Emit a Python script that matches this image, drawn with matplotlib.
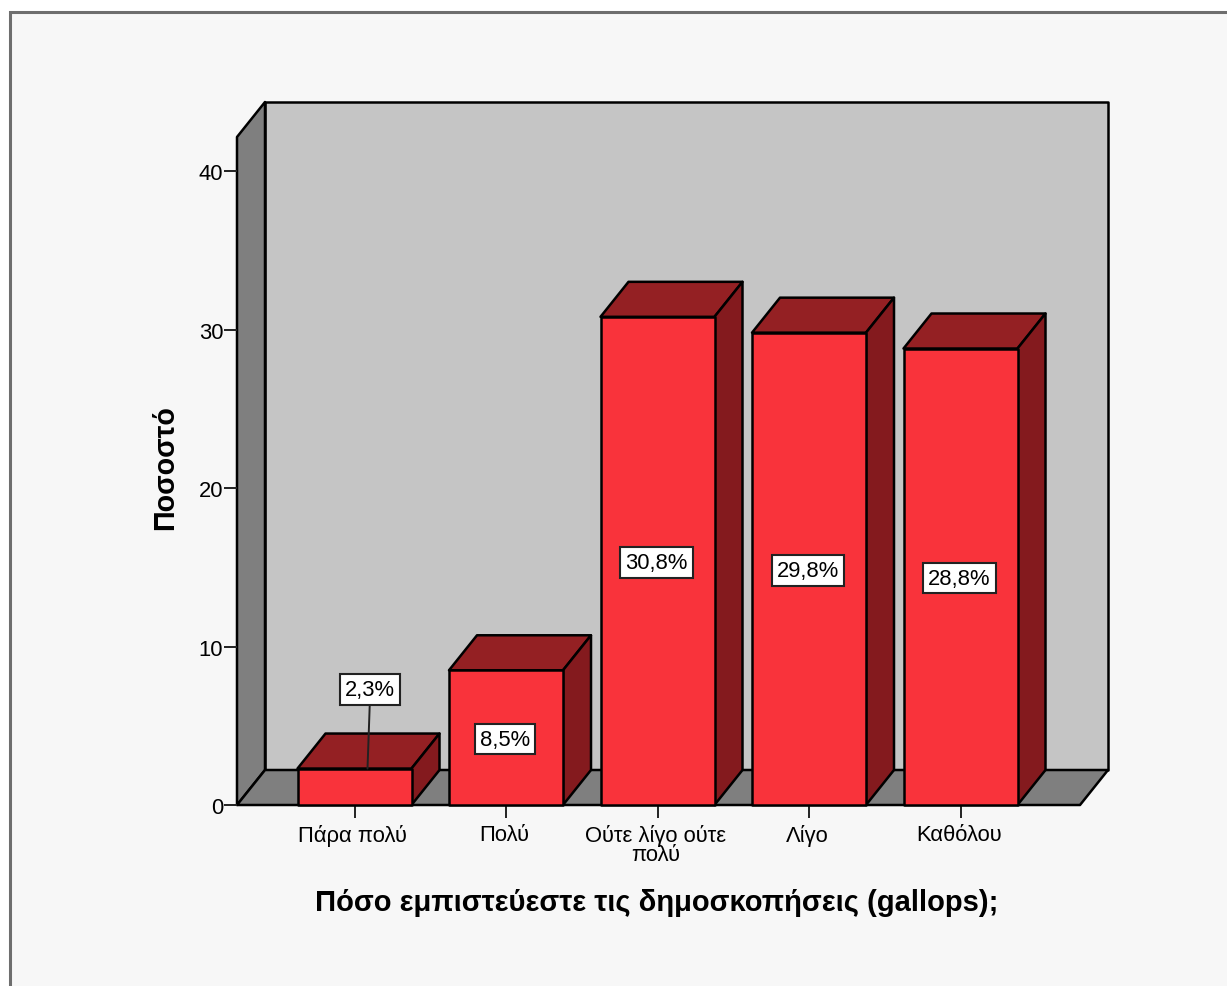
import matplotlib
matplotlib.use("Agg")
import matplotlib.pyplot as plt
from matplotlib.patches import Polygon, Rectangle
from matplotlib.transforms import ScaledTranslation

categories = ["Πάρα πολύ", "Πολύ", "Ούτε λίγο ούτε\nπολύ", "Λίγο", "Καθόλου"]
values = [2.3, 8.5, 30.8, 29.8, 28.8]
value_labels = ["2,3%", "8,5%", "30,8%", "29,8%", "28,8%"]
y_ticks = [0, 10, 20, 30, 40]
x_title = "Πόσο εμπιστεύεστε τις δημοσκοπήσεις (gallops);"
y_title = "Ποσοστό"

W, H = 1227, 987
plt.rcParams["font.family"] = ["Liberation Sans", "DejaVu Sans"]
fig = plt.figure(figsize=(W / 100, H / 100), dpi=100, facecolor="white")

# page panel
fig.add_artist(Rectangle((10 / W, -0.01), 1.01, (H - 13) / H + 0.01, transform=fig.transFigure,
                         facecolor="#f7f7f7", edgecolor="#6e6e6e", linewidth=2.2, zorder=-5))

L, R, B, T = 237, 1080, 806, 138
ax = fig.add_axes([L / W, (H - B) / H, (R - L) / W, (B - T) / H])
PXX, PXY = 151.5, 15.85
x0 = 354.5
ax.set_xlim((L - x0) / PXX, (R - x0) / PXX)
ax.set_ylim(0, (B - T) / PXY)
ax.patch.set_visible(False)
for s in ax.spines.values():
    s.set_visible(False)

dx, dy = 28 / PXX, 35 / PXY
xa, xb = ax.get_xlim()
ya, yb = ax.get_ylim()
edge = dict(edgecolor="black", linewidth=1.8, joinstyle="round", clip_on=False)


def poly(pts, color, z):
    ax.add_patch(Polygon(pts, closed=True, facecolor=color, zorder=z, **edge))


# walls
poly([(xa + dx, ya + dy), (xb + dx, ya + dy), (xb + dx, yb + dy), (xa + dx, yb + dy)], "#c5c5c5", 1)
poly([(xa, ya), (xa + dx, ya + dy), (xa + dx, yb + dy), (xa, yb)], "#7f7f7f", 1.1)
poly([(xa, ya), (xb, ya), (xb + dx, ya + dy), (xa + dx, ya + dy)], "#7f7f7f", 1.2)

# bars
bw = 114 / PXX
for i, v in enumerate(values):
    l, r = i - bw / 2, i + bw / 2
    poly([(l, v), (r, v), (r + dx, v + dy), (l + dx, v + dy)], "#942023", 2 + i)
    poly([(r, 0), (r + dx, dy), (r + dx, v + dy), (r, v)], "#841a1e", 2 + i)
    poly([(l, 0), (r, 0), (r, v), (l, v)], "#f9333b", 2.1 + i)

box = dict(boxstyle="square,pad=0.22", facecolor="white", edgecolor="#222222", linewidth=1.5)
for i, (v, t) in enumerate(zip(values, value_labels)):
    if v < 5:
        ax.annotate(t, xy=(i + 13 / PXX, v), xytext=(2, 57), textcoords="offset points",
                    ha="center", va="center", fontsize=15.8, color="black", bbox=box, zorder=20,
                    arrowprops=dict(arrowstyle="-", color="#222222", linewidth=1.4, shrinkA=0, shrinkB=0))
    else:
        ax.annotate(t, xy=(i - 1 / PXX, v / 2), xytext=(0, -1), textcoords="offset points",
                    ha="center", va="center", fontsize=15.8, color="black", bbox=box, zorder=20)

ax.set_xticks(range(len(categories)))
ax.set_xticklabels(categories, linespacing=0.87)
ax.set_yticks(y_ticks)
ax.tick_params(axis="x", length=9.4, width=1.4, color="#222222", labelsize=15.8, pad=4, labelcolor="black")
ax.tick_params(axis="y", length=9.4, width=1.4, color="#222222", labelsize=15.8, pad=0.5, labelcolor="black")
for lab in ax.get_xticklabels():
    lab.set_transform(lab.get_transform() + ScaledTranslation(-1.2 / 72, 0, fig.dpi_scale_trans))

fig.text(657 / W, 1 - 903 / H, x_title, ha="center", va="center", fontsize=21, fontweight="bold")
fig.text(165 / W, 1 - 468 / H, y_title, ha="center", va="center", rotation=90, fontsize=20.6, fontweight="bold")

fig.savefig("out.png", dpi=100, facecolor="white")
